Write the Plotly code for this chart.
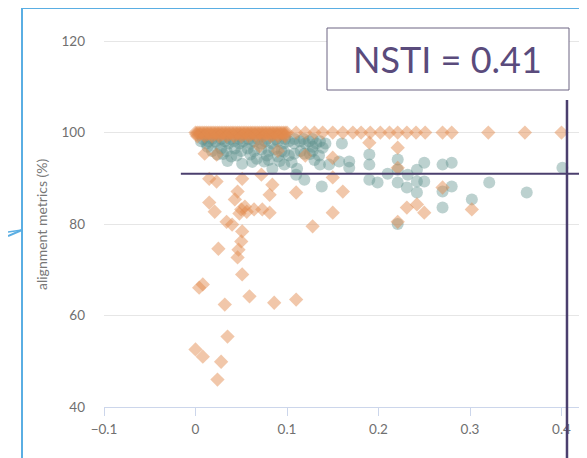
import plotly.graph_objects as go

# ---------------- data ----------------
# orange diamonds
orange_x = [
    # top row at 100
    0.000, 0.004, 0.008, 0.012, 0.016, 0.020, 0.024, 0.028, 0.032, 0.036, 0.040,
    0.044, 0.048, 0.052, 0.056, 0.060, 0.064, 0.068, 0.072, 0.076, 0.080, 0.084,
    0.088, 0.092, 0.096, 0.100, 0.110, 0.120, 0.130, 0.139, 0.150, 0.161, 0.172,
    0.181, 0.191, 0.202, 0.212, 0.221, 0.231, 0.241, 0.251, 0.270, 0.280, 0.320,
    0.360, 0.400,
    # more points packed in the dense band at 100
    0.002, 0.006, 0.010, 0.014, 0.018, 0.022, 0.026, 0.030, 0.034, 0.038, 0.042,
    0.046, 0.050, 0.054, 0.058, 0.062, 0.066, 0.070, 0.074, 0.078, 0.082, 0.086,
    0.090, 0.094, 0.098,
    # rows just below 100
    0.001, 0.005, 0.009, 0.013, 0.017, 0.021, 0.025, 0.029, 0.033, 0.037, 0.041,
    0.045, 0.049, 0.053, 0.057, 0.061, 0.065, 0.069, 0.073, 0.077, 0.081, 0.085,
    0.089, 0.093, 0.097,
    0.002, 0.010, 0.018, 0.026, 0.034, 0.042, 0.050, 0.058, 0.066, 0.074, 0.082,
    0.090, 0.098,
    # scattered below
    0.010, 0.023, 0.015, 0.023, 0.051, 0.072, 0.084, 0.081, 0.110, 0.046, 0.043,
    0.015, 0.021, 0.050, 0.054, 0.048, 0.056, 0.064, 0.073, 0.081, 0.034, 0.040,
    0.051, 0.050, 0.025, 0.047, 0.046, 0.051, 0.128, 0.004, 0.008, 0.032, 0.059,
    0.086, 0.110, 0.035, 0.000, 0.008, 0.028, 0.024,
    0.190, 0.221, 0.150, 0.221, 0.150, 0.161, 0.150, 0.231, 0.242, 0.250, 0.221,
    0.270, 0.302, 0.070, 0.090, 0.120,
]
orange_y = [
    100, 100, 100, 100, 100, 100, 100, 100, 100, 100, 100,
    100, 100, 100, 100, 100, 100, 100, 100, 100, 100, 100,
    100, 100, 100, 100, 100, 100, 100, 100, 100, 100, 100,
    100, 100, 100, 100, 100, 100, 100, 100, 100, 100, 100,
    100, 100,
    100, 100, 100, 100, 100, 100, 100, 100, 100, 100, 100,
    100, 100, 100, 100, 100, 100, 100, 100, 100, 100, 100,
    100, 100, 100,
    99.6, 99.6, 99.6, 99.6, 99.6, 99.6, 99.6, 99.6, 99.6, 99.6, 99.6,
    99.6, 99.6, 99.6, 99.6, 99.6, 99.6, 99.6, 99.6, 99.6, 99.6, 99.6,
    99.6, 99.6, 99.6,
    99.2, 99.2, 99.2, 99.2, 99.2, 99.2, 99.2, 99.2, 99.2, 99.2, 99.2,
    99.2, 99.2,
    95.4, 95.2, 89.9, 89.3, 89.9, 90.8, 88.6, 86.4, 86.9, 87.1, 85.4,
    84.7, 82.7, 83.2, 83.8, 82.3, 82.7, 83.2, 83.2, 82.5, 80.5, 79.9,
    78.4, 76.2, 74.6, 74.4, 72.7, 69.0, 79.5, 66.1, 66.8, 62.4, 64.2,
    62.8, 63.5, 55.4, 52.6, 51.0, 49.9, 46.0,
    97.8, 96.7, 94.5, 92.3, 90.2, 87.1, 82.5, 83.6, 84.3, 82.5, 80.5,
    88.0, 83.2, 97.0, 96.0, 95.0,
]

# teal circles
teal_x = [
    0.008, 0.018, 0.028, 0.038, 0.048, 0.058, 0.068, 0.078, 0.088, 0.098, 0.108,
    0.118, 0.128,
    0.012, 0.024, 0.036, 0.048, 0.060, 0.072, 0.084, 0.096, 0.108, 0.120, 0.132,
    0.142,
    0.006, 0.014, 0.022, 0.032, 0.042, 0.052, 0.064, 0.076, 0.090, 0.102, 0.114,
    0.124, 0.136,
    0.013, 0.028, 0.043, 0.057, 0.072, 0.086, 0.097, 0.108, 0.119, 0.024, 0.039,
    0.051, 0.067, 0.084, 0.075, 0.097, 0.111, 0.110, 0.119,
    0.018, 0.034, 0.050, 0.064, 0.080, 0.094, 0.115, 0.128,
    0.030, 0.045, 0.060, 0.078, 0.090, 0.102, 0.125, 0.135,
    0.035, 0.062, 0.080, 0.092, 0.105, 0.130,
    0.128, 0.139, 0.160, 0.136, 0.146, 0.157, 0.168, 0.168, 0.190, 0.190, 0.190,
    0.199, 0.210, 0.221, 0.221, 0.221, 0.232, 0.231, 0.242, 0.242, 0.250, 0.250,
    0.242, 0.138, 0.270, 0.280, 0.270, 0.280, 0.270, 0.302, 0.321, 0.362, 0.401,
    0.221,
]
teal_y = [
    98.6, 98.6, 98.6, 98.6, 98.6, 98.6, 98.6, 98.6, 98.6, 98.6, 98.6,
    98.6, 98.6,
    97.6, 97.6, 97.6, 97.6, 97.6, 97.6, 97.6, 97.6, 97.6, 97.6, 97.6,
    97.6,
    98.1, 98.1, 98.1, 98.1, 98.1, 98.1, 98.1, 98.1, 98.1, 98.1, 98.1,
    98.1, 98.1,
    96.9, 96.5, 96.5, 96.5, 96.3, 96.3, 95.8, 95.4, 95.4, 95.2, 94.8,
    93.2, 94.3, 92.1, 93.7, 93.0, 92.1, 90.8, 89.7,
    96.0, 96.0, 96.0, 96.0, 96.0, 96.0, 96.0, 96.0,
    95.3, 95.0, 95.2, 95.0, 94.8, 95.0, 95.3, 95.0,
    93.8, 93.6, 94.0, 93.8, 93.5, 94.0,
    96.9, 96.7, 97.6, 93.0, 93.0, 93.7, 93.7, 92.3, 95.2, 93.0, 89.7,
    89.1, 91.0, 94.1, 91.9, 89.1, 90.8, 88.0, 91.9, 89.3, 93.4, 89.3,
    86.9, 88.2, 93.0, 93.4, 87.1, 88.2, 83.6, 85.4, 89.1, 86.9, 92.3,
    80.0,
]

x_ticks = [-0.1, 0, 0.1, 0.2, 0.3, 0.4]
x_tick_labels = ["\u22120.1", "0", "0.1", "0.2", "0.3", "0.4"]
y_ticks = [40, 60, 80, 100, 120]
y_tick_labels = ["40", "60", "80", "100", "120"]

nsti_line_x = 0.406
mean_line_y = 91.0
mean_line_x_start = -0.016
nsti_label = "NSTI = 0.41"
y_title = "alignment metrics (%)"

# ---------------- figure ----------------
# the page body has an 8px margin, so the figure starts at page (8, 8)
OFF = 8
PAGE_W, PAGE_H = 587, 458
W, H = PAGE_W - OFF, PAGE_H - OFF
PLOT_L, PLOT_T, PLOT_B = 104, 32, 407        # page pixel coordinates
ML, MR, MT, MB = PLOT_L - OFF, 0, PLOT_T - OFF, PAGE_H - PLOT_B
PW = PAGE_W - PLOT_L
PH = PLOT_B - PLOT_T

def px_x(p):
    return (p - PLOT_L) / PW

def px_y(p):
    return (PLOT_B - p) / PH

fig = go.Figure()
fig.add_trace(go.Scatter(
    x=teal_x, y=teal_y, mode="markers",
    marker=dict(symbol="circle", size=12, color="rgb(95,145,140)", opacity=0.42,
                line=dict(width=0)),
    hoverinfo="skip", showlegend=False,
))
fig.add_trace(go.Scatter(
    x=orange_x, y=orange_y, mode="markers",
    marker=dict(symbol="diamond", size=11, color="rgb(226,137,78)", opacity=0.48,
                line=dict(width=0)),
    hoverinfo="skip", showlegend=False,
))

x_right = -0.1 + 0.1 * PW / 91.5

shapes = [
    dict(type="line", xref="x", yref="y", x0=mean_line_x_start, x1=x_right,
         y0=mean_line_y, y1=mean_line_y, line=dict(color="#4b3f6e", width=2)),
    dict(type="line", xref="x", yref="paper", x0=nsti_line_x, x1=nsti_line_x,
         y0=px_y(100), y1=px_y(470), line=dict(color="#4b3f6e", width=2.5)),
    dict(type="rect", xref="paper", yref="paper", x0=px_x(327), x1=px_x(569),
         y0=px_y(90), y1=px_y(28), fillcolor="white",
         line=dict(color="#6d6482", width=1)),
    # blue frame
    dict(type="line", xref="paper", yref="paper", x0=px_x(22), x1=px_x(22),
         y0=px_y(7), y1=px_y(470), line=dict(color="#5aaee3", width=2)),
    dict(type="line", xref="paper", yref="paper", x0=px_x(22), x1=px_x(600),
         y0=px_y(8), y1=px_y(8), line=dict(color="#5aaee3", width=2)),
    dict(type="line", xref="paper", yref="paper", x0=px_x(586), x1=px_x(586),
         y0=px_y(8), y1=px_y(470), line=dict(color="#a9d4f0", width=1.5)),
    # arrow at left
    dict(type="line", xref="paper", yref="paper", x0=px_x(8), x1=px_x(22),
         y0=px_y(236), y1=px_y(230), line=dict(color="#5aaee3", width=2)),
    dict(type="line", xref="paper", yref="paper", x0=px_x(8), x1=px_x(22),
         y0=px_y(232), y1=px_y(230), line=dict(color="#5aaee3", width=1.5)),
]

annotations = [
    dict(text=nsti_label, xref="paper", yref="paper", x=px_x(447), y=px_y(59),
         xanchor="center", yanchor="middle", showarrow=False,
         font=dict(family="Lato", size=36, color="#5a4b7c")),
    dict(text=y_title, xref="paper", yref="paper", x=px_x(41), y=px_y(224),
         xanchor="center", yanchor="middle", showarrow=False, textangle=-90,
         font=dict(family="Lato", size=14, color="#777777")),
]

fig.update_layout(
    width=W, height=H,
    margin=dict(l=ML, r=MR, t=MT, b=MB, pad=0),
    paper_bgcolor="white", plot_bgcolor="white",
    shapes=shapes, annotations=annotations,
    showlegend=False,
    xaxis=dict(
        range=[-0.1, x_right], tickvals=x_ticks, ticktext=x_tick_labels,
        showgrid=False, zeroline=False, showline=True, linecolor="#ccd6eb",
        linewidth=1, ticks="outside", ticklen=8, tickcolor="#ccd6eb",
        tickfont=dict(family="Lato", size=13.5, color="#707070"),
        ticklabelstandoff=2,
    ),
    yaxis=dict(
        range=[40, 122], tickvals=y_ticks, ticktext=y_tick_labels,
        showgrid=True, gridcolor="#e6e6e6", gridwidth=1, zeroline=False,
        showline=False, ticks="",
        tickfont=dict(family="Lato", size=13.5, color="#707070"),
        ticklabelstandoff=18,
    ),
)

fig.write_html("out.html")
